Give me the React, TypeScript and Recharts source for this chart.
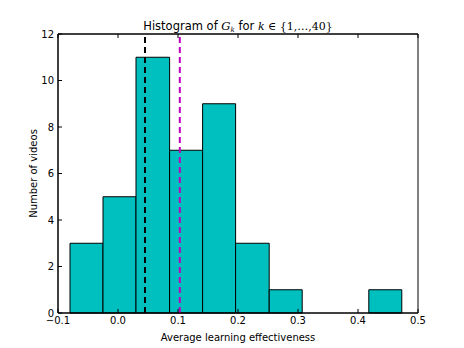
import { ComposedChart, XAxis, YAxis, ReferenceArea, ReferenceLine, Line } from 'recharts';

// bin edges and counts of G_k, k = 1..40
const binEdges = [-0.080, -0.025, 0.030, 0.086, 0.141, 0.196, 0.252, 0.307, 0.362, 0.418, 0.473];
const counts = [3, 5, 11, 7, 9, 3, 1, 0, 0, 1];
const xTicks = [-0.1, 0, 0.1, 0.2, 0.3, 0.4, 0.5];
const yTicks = [0, 2, 4, 6, 8, 10, 12];
const meanLine = 0.045;
const otherLine = 0.103;

const bins = counts.map((c, i) => ({ x0: binEdges[i], x1: binEdges[i + 1], mid: (binEdges[i] + binEdges[i + 1]) / 2, count: c }));

const font = '"DejaVu Sans", sans-serif';
const mathFont = '"DejaVu Serif", serif';
const fmtX = (v: number) => (v < 0 ? '\u2212' : '') + Math.abs(v).toFixed(1);

export default function App() {
  return (
    <div style={{ position: 'absolute', left: 0, top: 0, width: 464, height: 348, background: '#fff', fontFamily: font }}>
      <div style={{ position: 'absolute', left: 0, width: 476, top: 19, textAlign: 'center', fontSize: 11.5, lineHeight: '14px', color: '#000', whiteSpace: 'nowrap' }}>
        Histogram of <span style={{ fontFamily: mathFont, fontStyle: 'italic' }}>G<sub style={{ fontSize: 7, verticalAlign: '-2px' }}>k</sub></span> for{' '}
        <span style={{ fontFamily: mathFont, fontSize: 11 }}><i>k</i> ∈ {'{'}1,…,40{'}'}</span>
      </div>
      <ComposedChart width={464} height={348} data={bins} margin={{ top: 34, right: 46, bottom: 0, left: 0 }}>
        <XAxis dataKey="mid" type="number" domain={[-0.1, 0.5]} ticks={xTicks} tickFormatter={fmtX}
          height={35} tickSize={-4} tickMargin={8} stroke="#000" tick={{ fill: '#000', fontSize: 10, fontFamily: font }}
          label={{ value: 'Average learning effectiveness', position: 'insideBottom', offset: 7, fill: '#000', fontSize: 10, fontFamily: font }} />
        <XAxis xAxisId="top" orientation="top" dataKey="mid" type="number" domain={[-0.1, 0.5]} ticks={xTicks}
          height={1} mirror tick={() => <g />} tickSize={4} stroke="#000" />
        <YAxis type="number" domain={[0, 12]} ticks={yTicks} width={58} tickSize={-4} tickMargin={8} stroke="#000"
          tick={{ fill: '#000', fontSize: 10, fontFamily: font }}
          label={{ value: 'Number of videos', angle: -90, position: 'insideLeft', offset: 33, fill: '#000', fontSize: 10, fontFamily: font, style: { textAnchor: 'middle' } }} />
        <Line dataKey="count" stroke="none" dot={false} activeDot={false} isAnimationActive={false} />
        {bins.map((b, i) =>
          b.count > 0 ? (
            <ReferenceArea key={i} x1={b.x0} x2={b.x1} y1={0} y2={b.count} fill="#00BFBF" fillOpacity={1} stroke="#000" strokeWidth={1} ifOverflow="visible" />
          ) : null
        )}
        <ReferenceArea x1={xTicks[0]} x2={xTicks[xTicks.length - 1]} y1={yTicks[0]} y2={yTicks[yTicks.length - 1]} fill="none" stroke="#000" strokeWidth={1} ifOverflow="visible" />
        <ReferenceLine x={meanLine} stroke="#000" strokeWidth={2} strokeDasharray="6 4" />
        <ReferenceLine x={otherLine} stroke="#BF00BF" strokeWidth={2} strokeDasharray="6 4" />
      </ComposedChart>
    </div>
  );
}
